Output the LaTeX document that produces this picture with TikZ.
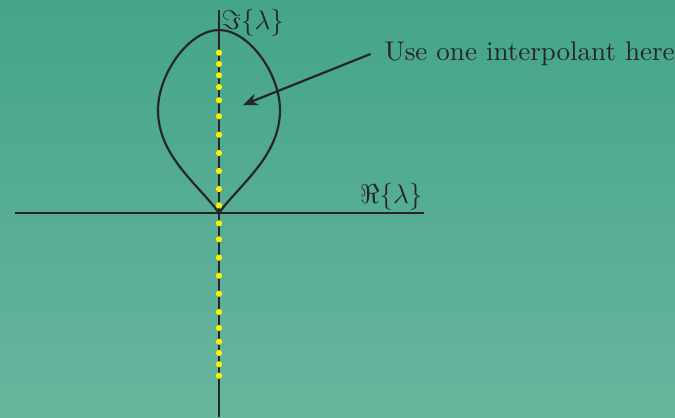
\documentclass[tikz,border=0pt]{standalone}
\usetikzlibrary{arrows.meta}
\definecolor{bgtop}{RGB}{68,164,137}
\definecolor{bgbot}{RGB}{103,182,158}
\definecolor{ink}{RGB}{38,38,38}
\definecolor{dotc}{RGB}{255,240,0}
\begin{document}
\begin{tikzpicture}[x=0.37pt,y=-0.37pt,
  axis/.style={draw=ink,line width=0.75pt},
  curve/.style={draw=ink,line width=0.8pt},
  ydot/.style={circle,fill=dotc,inner sep=0pt,minimum size=2.3pt},
  lbl/.style={text=ink,inner sep=0pt}]
\shade[top color=bgtop,bottom color=bgbot] (0,0) rectangle (675,417);
\useasboundingbox (0,0) rectangle (675,417);
\coordinate (vtop) at (219,10);
\coordinate (vbot) at (219,417);
\coordinate (hl) at (15,213);
\coordinate (hr) at (424,213);
\draw[axis] (vtop) -- (vbot);
\draw[axis] (hl) -- (hr);
\coordinate (o) at (219,213);
\coordinate (t) at (219,30);
\coordinate (lw) at (158,110);
\coordinate (rw) at (280,110);
\draw[curve] (o) .. controls (198,184) and (158,156) .. (lw)
  .. controls (158,74) and (189,30) .. (t)
  .. controls (249,30) and (280,74) .. (rw)
  .. controls (280,156) and (240,184) .. (o);
\foreach \yy [count=\i] in {52.7,64,75.3,87,100.3,116.3,134.7,153,171,189,205.3,223.3,239.3,257.7,275.7,293.7,312,328,341.7,353,364.3,375.7}
  \node[ydot] (d\i) at (219,\yy) {};
\node[lbl,anchor=west] (im) at (221,23) {$\Im\{\lambda\}$};
\node[lbl,anchor=east] (re) at (423,197) {$\Re\{\lambda\}$};
\node[lbl,anchor=west] (note) at (384,54) {Use one interpolant here};
\coordinate (tip) at (243,105);
\draw[ink,line width=0.8pt,-{Stealth[length=5.5pt,width=4.5pt]}] (note.west) ++(-5pt,0) -- (tip);
\end{tikzpicture}
\end{document}
